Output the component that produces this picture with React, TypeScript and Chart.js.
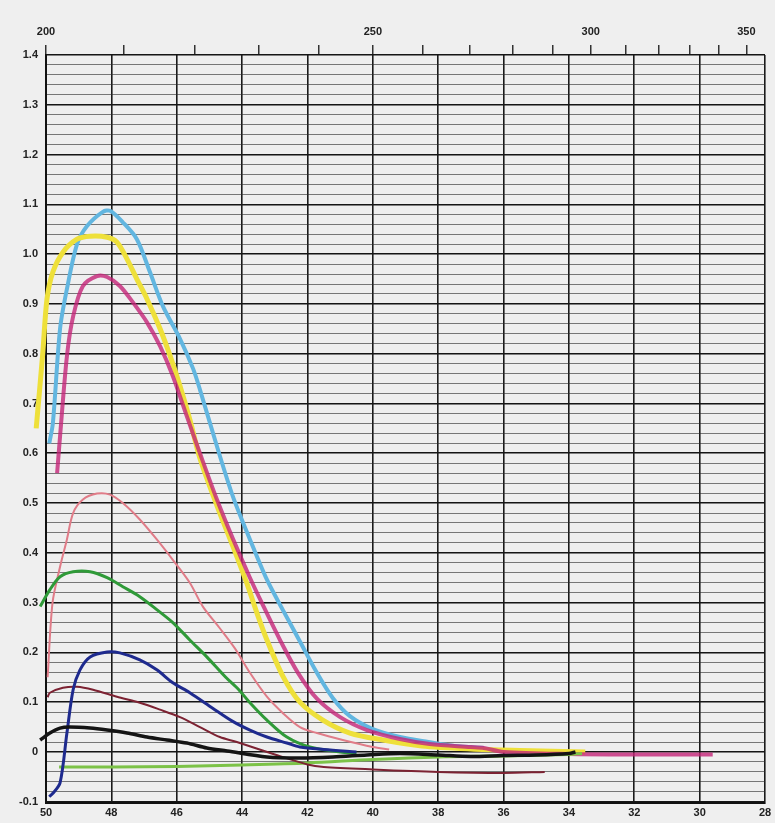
import React, { useEffect, useRef } from "react";
import { Chart, registerables } from "chart.js";

Chart.register(...registerables);

// Bottom axis: wavenumber (×1000 cm⁻¹), top axis: wavelength (nm)
const WAVENUMBER_TICKS = [50, 48, 46, 44, 42, 40, 38, 36, 34, 32, 30, 28];
const WAVELENGTH_TICKS = [200, 210, 220, 230, 240, 250, 260, 270, 280, 290, 300, 310, 320, 330, 340, 350];
const WAVELENGTH_LABELS = [200, 250, 300, 350];
const ABSORBANCE_LABELS = [-0.1, 0, 0.1, 0.2, 0.3, 0.4, 0.5, 0.6, 0.7, 0.8, 0.9, 1.0, 1.1, 1.2, 1.3, 1.4];

// [wavenumber, absorbance]
const CYAN: [number, number][] = [
  [49.9, 0.62], [49.79, 0.66], [49.57, 0.85], [49.36, 0.93], [49.05, 1.02], [48.75, 1.056],
  [48.26, 1.085], [48.04, 1.087], [47.65, 1.064], [47.22, 1.03], [46.82, 0.964], [46.42, 0.895],
  [45.9, 0.83], [45.5, 0.77], [45.29, 0.728], [44.77, 0.614], [44.28, 0.513], [43.76, 0.427],
  [43.24, 0.346], [42.75, 0.285], [42.23, 0.222], [41.71, 0.159], [41.22, 0.108],
  [40.7, 0.072], [40.0, 0.046], [39.17, 0.03], [38.3, 0.02], [37.5, 0.012], [36.6, 0.008],
];
const YELLOW: [number, number][] = [
  [50.3, 0.65], [50.1, 0.8], [49.97, 0.91], [49.79, 0.964], [49.48, 1.004], [49.05, 1.03],
  [48.65, 1.036], [48.13, 1.034], [47.83, 1.024], [47.52, 0.99], [47.22, 0.95], [46.91, 0.91],
  [46.51, 0.85], [46.2, 0.795], [45.9, 0.735], [45.6, 0.668], [45.29, 0.59], [44.77, 0.495],
  [44.28, 0.413], [43.85, 0.338], [43.55, 0.28], [43.24, 0.225], [42.75, 0.152], [42.23, 0.1],
  [41.53, 0.064], [40.7, 0.038], [39.69, 0.024], [38.5, 0.012], [37.0, 0.006], [35.5, 0.003], [33.5, 0.0],
];
const MAGENTA: [number, number][] = [
  [49.66, 0.56], [49.57, 0.634], [49.36, 0.795], [49.17, 0.875], [48.87, 0.936], [48.44, 0.956],
  [48.13, 0.954], [47.74, 0.936], [47.34, 0.903], [46.91, 0.863], [46.51, 0.815], [46.12, 0.755],
  [45.69, 0.674], [45.29, 0.6], [44.77, 0.507], [44.28, 0.428], [43.76, 0.35], [43.4, 0.3],
  [42.84, 0.225], [42.3, 0.16], [41.71, 0.107], [41.0, 0.07], [40.18, 0.044], [39.17, 0.026],
  [38.26, 0.016], [37.0, 0.01], [36.6, 0.008], [36.0, 0.0], [34.0, -0.004], [32.0, -0.005], [29.6, -0.005],
];
const PINK: [number, number][] = [
  [49.95, 0.15], [49.8, 0.3], [49.57, 0.372], [49.36, 0.427], [49.17, 0.48], [48.87, 0.507],
  [48.44, 0.519], [48.04, 0.517], [47.65, 0.5], [47.13, 0.467], [46.61, 0.427], [46.12, 0.386],
  [45.6, 0.34], [45.2, 0.292], [44.7, 0.25], [44.22, 0.208], [43.76, 0.159], [43.24, 0.111],
  [42.75, 0.078], [42.23, 0.05], [41.71, 0.038], [40.92, 0.024], [40.0, 0.01], [39.5, 0.005],
];
const GREEN: [number, number][] = [
  [50.18, 0.292], [49.88, 0.326], [49.57, 0.352], [49.17, 0.362], [48.65, 0.362], [48.13, 0.35],
  [47.65, 0.332], [47.13, 0.312], [46.61, 0.286], [46.12, 0.26], [45.6, 0.225], [45.08, 0.191],
  [44.5, 0.15], [44.1, 0.125], [43.76, 0.099], [43.24, 0.064], [42.63, 0.03], [41.93, 0.01],
  [41.0, 0.0], [40.5, -0.002],
];
const BLUE: [number, number][] = [
  [49.9, -0.09], [49.79, -0.083], [49.57, -0.062], [49.36, 0.038], [49.17, 0.125], [48.96, 0.165],
  [48.65, 0.191], [48.13, 0.201], [47.74, 0.199], [47.13, 0.185], [46.61, 0.165], [46.12, 0.139],
  [45.6, 0.119], [44.9, 0.088], [44.3, 0.062], [43.76, 0.044], [43.24, 0.03], [42.63, 0.018],
  [42.23, 0.01], [41.5, 0.005], [40.5, 0.0],
];
const DARK_RED: [number, number][] = [
  [49.95, 0.11], [49.88, 0.119], [49.48, 0.129], [49.05, 0.131], [48.56, 0.125], [47.83, 0.111],
  [47.13, 0.099], [46.51, 0.085], [45.9, 0.07], [45.29, 0.05], [44.68, 0.03], [44.16, 0.02],
  [43.0, -0.005], [42.0, -0.025], [41.5, -0.03], [40.0, -0.035], [38.0, -0.04], [36.0, -0.042], [34.74, -0.04],
];
const BLACK: [number, number][] = [
  [50.18, 0.024], [49.88, 0.038], [49.57, 0.048], [49.27, 0.05], [48.65, 0.048], [48.13, 0.044],
  [47.52, 0.038], [46.91, 0.03], [46.3, 0.024], [45.69, 0.018], [45.08, 0.008], [44.46, 0.002],
  [43.24, -0.01], [42.23, -0.012], [41.22, -0.01], [40.18, -0.006], [39.17, -0.003], [38.0, -0.006],
  [37.0, -0.009], [36.0, -0.007], [35.0, -0.006], [34.0, -0.003], [33.8, 0.0],
];
const LIGHT_GREEN: [number, number][] = [
  [49.6, -0.03], [48.0, -0.03], [46.0, -0.029], [44.0, -0.026], [42.0, -0.022], [40.0, -0.015],
  [38.0, -0.01], [36.0, -0.008], [34.0, -0.005], [33.6, -0.003],
];

const FONT = { family: "'Liberation Sans', Arial, sans-serif", size: 11, weight: "bold" as const };

const pts = (arr: [number, number][]) => arr.map(([x, y]) => ({ x, y }));

export default function App() {
  const ref = useRef<HTMLCanvasElement | null>(null);

  useEffect(() => {
    if (!ref.current) return;
    const bg = {
      id: "paper",
      beforeDraw(chart: any) {
        const ctx = chart.ctx;
        ctx.save();
        ctx.fillStyle = "#efefef";
        ctx.fillRect(0, 0, chart.width, chart.height);
        ctx.restore();
      },
    };
    const ds = (label: string, data: [number, number][], color: string, width: number) => ({
      label,
      data: pts(data),
      borderColor: color,
      backgroundColor: color,
      borderWidth: width,
      pointRadius: 0,
      tension: 0.3,
      fill: false,
      clip: 14,
      xAxisID: "x",
      yAxisID: "y",
    });
    const chart = new Chart(ref.current, {
      type: "line",
      data: {
        datasets: [
          ds("black", BLACK, "#141414", 3.5),
          ds("blue", BLUE, "#1e2a8e", 3),
          ds("darkred", DARK_RED, "#7c2232", 2),
          ds("lightgreen", LIGHT_GREEN, "#7cc247", 3),
          ds("green", GREEN, "#2f9a38", 3),
          ds("pink", PINK, "#e07c88", 2),
          ds("magenta", MAGENTA, "rgba(196,36,120,0.8)", 4),
          ds("yellow", YELLOW, "#eee03a", 5),
          ds("cyan", CYAN, "#62b6e0", 4),
        ],
      },
      options: {
        responsive: false,
        animation: false,
        layout: { padding: { left: 0, right: 10, top: 0, bottom: 0 } },
        plugins: { legend: { display: false }, tooltip: { enabled: false } },
        scales: {
          x: {
            type: "linear",
            position: "bottom",
            min: 28,
            max: 50,
            reverse: true,
            afterBuildTicks: (s: any) => {
              s.ticks = WAVENUMBER_TICKS.map((v) => ({ value: v }));
            },
            afterFit: (s: any) => {
              s.height = 20;
            },
            ticks: { color: "#222", font: FONT, padding: 3, callback: (v: any) => String(v) },
            grid: { color: "#1a1a1a", lineWidth: 1.6, drawTicks: false },
            border: { display: true, color: "#111", width: 2 },
          },
          xTop: {
            type: "linear",
            position: "top",
            min: 28,
            max: 50,
            reverse: true,
            afterBuildTicks: (s: any) => {
              s.ticks = WAVELENGTH_TICKS.map((l) => ({ value: 1e4 / l }));
            },
            afterFit: (s: any) => {
              s.height = 55;
            },
            ticks: {
              color: "#222",
              font: FONT,
              padding: 6,
              autoSkip: false,
              maxRotation: 0,
              callback: (v: any) => {
                const l = Math.round(1e4 / Number(v));
                return WAVELENGTH_LABELS.includes(l) ? String(l) : "";
              },
            },
            grid: { drawOnChartArea: false, drawTicks: true, tickLength: 10, color: "#333", lineWidth: 1.5 },
            border: { display: false },
          },
          y: {
            type: "linear",
            min: -0.1025,
            max: 1.4,
            afterBuildTicks: (s: any) => {
              const t: { value: number }[] = [];
              for (let i = -5; i <= 70; i++) t.push({ value: i / 50 });
              s.ticks = t;
            },
            afterFit: (s: any) => {
              s.width = 46;
            },
            ticks: {
              color: "#222",
              font: FONT,
              padding: 8,
              autoSkip: false,
              callback: (v: any) => {
                const n = Math.round(Number(v) * 10) / 10;
                if (Math.abs(Number(v) - n) > 1e-6) return "";
                if (!ABSORBANCE_LABELS.some((a) => Math.abs(a - n) < 1e-6)) return "";
                return n === 0 ? "0" : n.toFixed(1);
              },
            },
            grid: {
              drawTicks: false,
              color: (c: any) => {
                const v = c.tick ? c.tick.value : 0;
                return Math.abs(v * 10 - Math.round(v * 10)) < 1e-6 ? "#151515" : "rgba(45,45,45,0.62)";
              },
              lineWidth: (c: any) => {
                const v = c.tick ? c.tick.value : 0;
                return Math.abs(v * 10 - Math.round(v * 10)) < 1e-6 ? 1.6 : 1;
              },
            },
            border: { display: true, color: "#111", width: 2 },
          },
        },
      },
      plugins: [bg],
    } as any);
    return () => chart.destroy();
  }, []);

  return (
    <div style={{ position: "absolute", left: 0, top: 0, width: 775, height: 823 }}>
      <canvas ref={ref} width={775} height={823} style={{ width: 775, height: 823, display: "block" }} />
    </div>
  );
}
